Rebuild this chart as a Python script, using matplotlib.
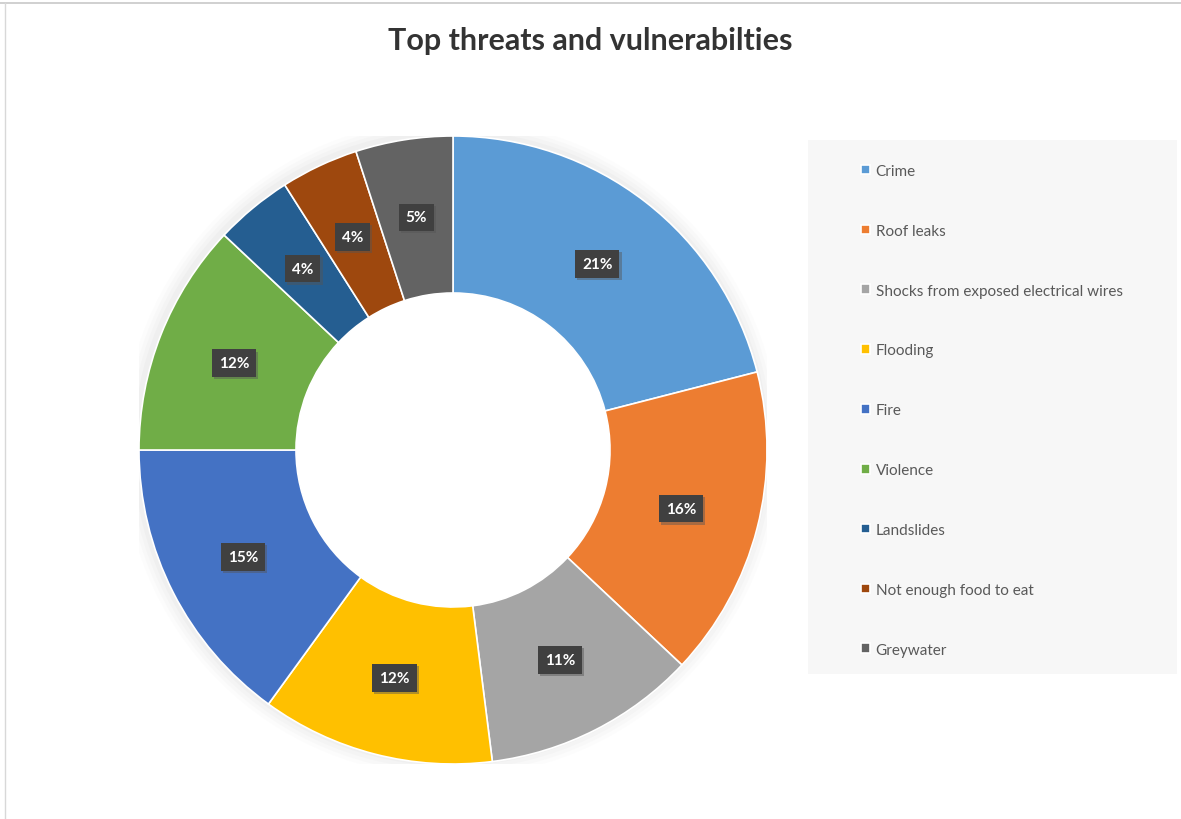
import matplotlib
matplotlib.use("Agg")
import matplotlib.pyplot as plt
from matplotlib.patches import Rectangle, Circle
from matplotlib.lines import Line2D
import matplotlib.patheffects as pe
import numpy as np

categories = ["Crime", "Roof leaks", "Shocks from exposed electrical wires",
              "Flooding", "Fire", "Violence", "Landslides",
              "Not enough food to eat", "Greywater"]
shares = [21, 16, 11, 12, 15, 12, 4, 4, 5]
colors = ["#5B9BD5", "#ED7D31", "#A5A5A5", "#FFC000", "#4472C4",
          "#70AD47", "#255E91", "#9E480E", "#636363"]
title = "Top threats and vulnerabilties"

plt.rcParams["font.family"] = ["Lato", "DejaVu Sans"]

W, H = 1181, 820
fig = plt.figure(figsize=(W / 100, H / 100), dpi=100)
fig.patch.set_facecolor("white")

# frame lines along the top and left edges
fig.add_artist(Line2D([0, 1], [1 - 4 / H, 1 - 4 / H], color="#c8c8c8", lw=1.2,
                      transform=fig.transFigure))
fig.add_artist(Line2D([5 / W, 5 / W], [0, 1 - 4 / H], color="#d8d8d8", lw=1.0,
                      transform=fig.transFigure))

# donut axes
cx, cy, R = 453, 451, 314
ax = fig.add_axes([(cx - R) / W, (H - cy - R) / H, 2 * R / W, 2 * R / H])
ax.axis("off")

# soft shadow around the ring
for i, a in enumerate([0.025, 0.03, 0.04, 0.05]):
    ax.add_patch(Circle((-0.006, 0.006), 1.0 + 0.012 * (4 - i), color="#9a9a9a",
                        alpha=a, lw=0, zorder=0))
ax.add_patch(Circle((0, 0), 0.52, color="white", lw=0, zorder=1))

wedges, _ = ax.pie(shares, colors=colors, startangle=90, counterclock=False,
                   radius=1.0, wedgeprops=dict(width=0.5, edgecolor="white", linewidth=1.2))
for w in wedges:
    w.set_zorder(2)
ax.set_xlim(-1, 1)
ax.set_ylim(-1, 1)
ax.set_aspect("equal")

total = sum(shares)
angle = 90.0
for v in shares:
    mid = angle - v / total * 360 / 2
    angle -= v / total * 360
    r = 0.75
    x, y = r * np.cos(np.radians(mid)), r * np.sin(np.radians(mid))
    t = ax.text(x, y, f"{v}%", ha="center", va="center", color="white",
                fontsize=11, fontweight="bold", zorder=5,
                bbox=dict(boxstyle="square,pad=0.45", facecolor="#404040",
                          edgecolor="none"))
    t.get_bbox_patch().set_path_effects([
        pe.SimplePatchShadow(offset=(1.5, -1.5), shadow_rgbFace="#555555", alpha=0.45),
        pe.Normal()])

fig.text(0.5, 1 - 41 / H, title, ha="center", va="center", fontsize=22,
         fontweight="bold", color="#333333")

# legend panel
fig.add_artist(Rectangle((808 / W, (H - 675) / H), 369 / W, 534 / H,
                         transform=fig.transFigure, facecolor="#f7f7f7",
                         edgecolor="none", zorder=0))
leg = fig.legend(wedges, categories, loc="upper left",
                 bbox_to_anchor=(861 / W, 1 - 165 / H), frameon=False,
                 fontsize=11, labelcolor="#595959", handlelength=0.6,
                 handleheight=0.6, handletextpad=0.35, labelspacing=3.0,
                 borderpad=0, borderaxespad=0)

fig.savefig("out.png", dpi=100)
